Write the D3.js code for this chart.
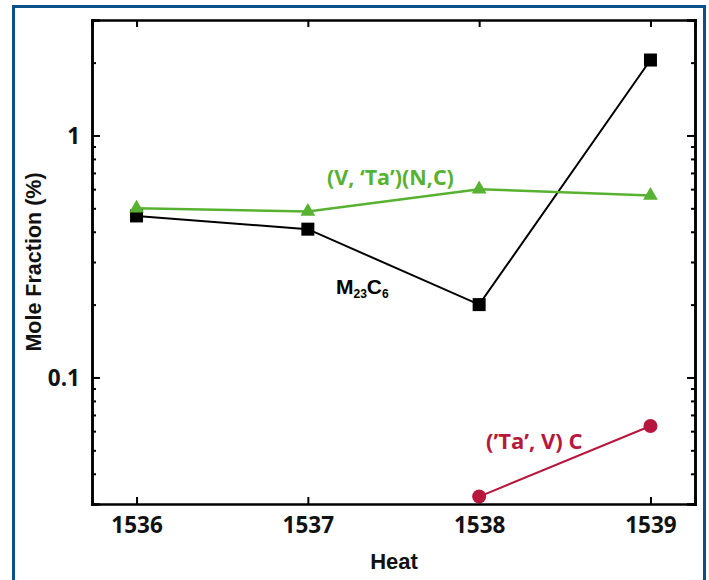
<!DOCTYPE html>
<html><head><meta charset="utf-8">
<script src="https://cdn.jsdelivr.net/npm/d3@7"></script>
<style>body{margin:0;background:#fff}svg{display:block}</style>
</head><body>
<script>
const heats = [1536, 1537, 1538, 1539];
const m23c6 = [0.465, 0.41, 0.20, 2.05];
const vtaNC = [0.50, 0.485, 0.60, 0.565];
const taVC_heats = [1538, 1539];
const taVC = [0.0322, 0.063];
const yMajor = [0.1, 1];
const yMinor = [0.04,0.05,0.06,0.07,0.08,0.09,0.2,0.3,0.4,0.5,0.6,0.7,0.8,0.9,2];

const W = 709, H = 580;
const svg = d3.select("body").append("svg").attr("width", W).attr("height", H);
svg.append("rect").attr("x", 13.5).attr("y", 6.5).attr("width", 691).attr("height", 600)
  .attr("fill", "#fff").attr("stroke", "#0b4f8c").attr("stroke-width", 3);

const L = 92, R = 695, T = 20, B = 504;
const x = d3.scaleLinear().domain([1535.74, 1539.26]).range([L, R]);
const y = d3.scaleLog().domain([0.03, 3]).range([B, T]);

const tickFont = "'Open Sans', sans-serif";
const axB = d3.axisBottom(x).tickValues(heats).tickSize(-7).tickFormat(d3.format("d")).tickPadding(13);
const gB = svg.append("g").attr("transform", `translate(0,${B})`).call(axB);
const axT = d3.axisTop(x).tickValues(heats).tickSize(-7).tickFormat("");
const gT = svg.append("g").attr("transform", `translate(0,${T})`).call(axT);
const axL = d3.axisLeft(y).tickValues(yMajor).tickSize(-8).tickFormat(d => d === 1 ? "1" : "0.1").tickPadding(12);
const gL = svg.append("g").attr("transform", `translate(${L},0)`).call(axL);
const axLm = d3.axisLeft(y).tickValues(yMinor).tickSize(-4).tickFormat("");
const gLm = svg.append("g").attr("transform", `translate(${L},0)`).call(axLm);
const axR = d3.axisRight(y).tickValues(yMajor).tickSize(-8).tickFormat("");
const gR = svg.append("g").attr("transform", `translate(${R},0)`).call(axR);
const axRm = d3.axisRight(y).tickValues(yMinor).tickSize(-4).tickFormat("");
const gRm = svg.append("g").attr("transform", `translate(${R},0)`).call(axRm);
[gB,gT,gL,gLm,gR,gRm].forEach(g => {
  g.selectAll(".domain").attr("stroke", "#000").attr("stroke-width", 2.5);
  g.selectAll(".tick line").attr("stroke", "#000").attr("stroke-width", 2);
  g.selectAll("text").attr("font-family", tickFont).attr("font-weight", 700)
    .attr("font-size", 22.5).attr("fill", "#111");
});
gL.selectAll("text").attr("dy", "0.36em");

const line = d3.line().x(d => x(d[0])).y(d => y(d[1]));
const green = "#58b231", red = "#b8173d";
svg.append("path").datum(heats.map((h,i)=>[h, m23c6[i]])).attr("d", line)
  .attr("fill","none").attr("stroke","#000").attr("stroke-width",2);
svg.append("path").datum(heats.map((h,i)=>[h, vtaNC[i]])).attr("d", line)
  .attr("fill","none").attr("stroke",green).attr("stroke-width",2.5);
svg.append("path").datum(taVC_heats.map((h,i)=>[h, taVC[i]])).attr("d", line)
  .attr("fill","none").attr("stroke",red).attr("stroke-width",2);

svg.selectAll(".sq").data(heats.map((h,i)=>[h, m23c6[i]])).join("rect")
  .attr("x", d => x(d[0]) - 6.5).attr("y", d => y(d[1]) - 6.5)
  .attr("width", 13).attr("height", 13).attr("fill", "#000");
const tri = d3.symbol().type(d3.symbolTriangle).size(95);
svg.selectAll(".tri").data(heats.map((h,i)=>[h, vtaNC[i]])).join("path")
  .attr("d", tri).attr("transform", d => `translate(${x(d[0])},${y(d[1])})`).attr("fill", green);
svg.selectAll(".cir").data(taVC_heats.map((h,i)=>[h, taVC[i]])).join("circle")
  .attr("cx", d => x(d[0])).attr("cy", d => y(d[1])).attr("r", 7).attr("fill", red);

const lf = "'Open Sans', sans-serif";
svg.append("text").attr("x", 327).attr("y", 185).attr("font-family", lf).attr("font-weight", 700)
  .attr("font-size", 21.5).attr("fill", green).text("(V, ‘Ta’)(N,C)");
svg.append("text").attr("x", 486).attr("y", 449).attr("font-family", lf).attr("font-weight", 700)
  .attr("font-size", 22).attr("fill", red).text("(’Ta’, V) C");
const mt = svg.append("text").attr("x", 336).attr("y", 294).attr("font-family", "'Liberation Sans', Arial, sans-serif")
  .attr("font-weight", 700).attr("font-size", 21).attr("fill", "#000");
mt.append("tspan").text("M");
mt.append("tspan").attr("font-size", 12).attr("dy", 4).text("23");
mt.append("tspan").attr("dy", -4).text("C");
mt.append("tspan").attr("font-size", 12).attr("dy", 4).text("6");

svg.append("text").attr("x", 394).attr("y", 569).attr("text-anchor", "middle")
  .attr("font-family", "'Liberation Sans', Arial, sans-serif").attr("font-weight", 700)
  .attr("font-size", 22).attr("fill", "#111").text("Heat");
svg.append("text").attr("transform", "translate(41,262) rotate(-90)").attr("text-anchor", "middle")
  .attr("font-family", "'Liberation Sans', Arial, sans-serif").attr("font-weight", 700)
  .attr("font-size", 21.5).attr("fill", "#111").text("Mole Fraction (%)");
</script>
</body></html>
